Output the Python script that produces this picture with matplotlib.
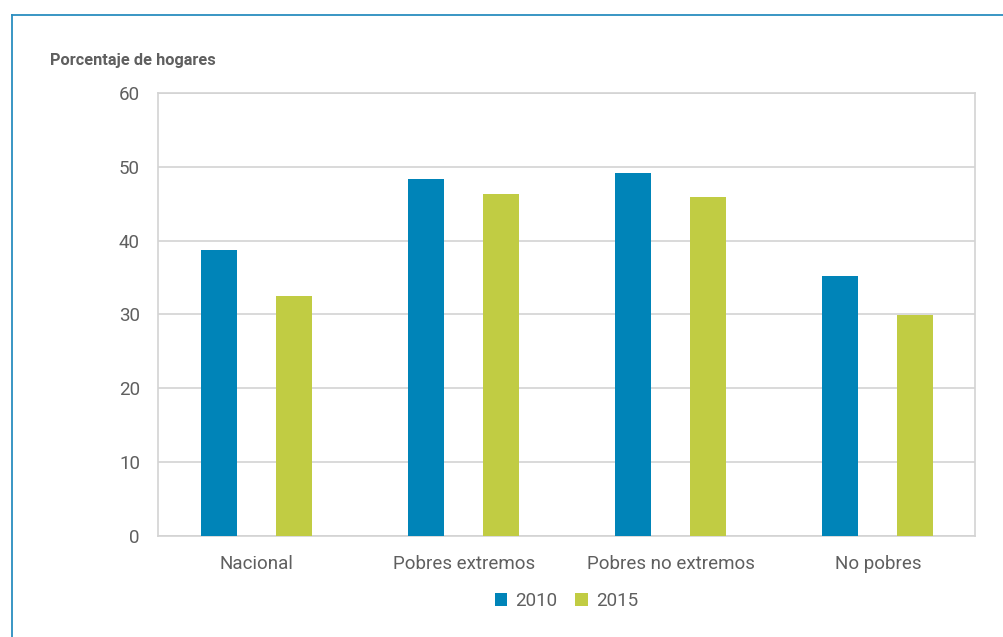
import matplotlib.pyplot as plt
import numpy as np

categories = ["Nacional", "Pobres extremos", "Pobres no extremos", "No pobres"]
years = ["2010", "2015"]
values_2010 = [38.8, 48.4, 49.2, 35.2]
values_2015 = [32.5, 46.3, 45.9, 29.9]
yticks = [0, 10, 20, 30, 40, 50, 60]

blue = "#0084b8"
green = "#c1cc43"
grid = "#d3d3d3"
text = "#5f5f5f"

plt.rcParams['font.family'] = ['Roboto', 'DejaVu Sans']

fig = plt.figure(figsize=(10.04, 6.37), dpi=100)
ax = fig.add_axes([0.1574, 0.1586, 0.8136, 0.6954])

x = np.arange(len(categories))
w = 0.174
ax.bar(x - 0.181, values_2010, w, color=blue, label=years[0], zorder=3)
ax.bar(x + 0.181, values_2015, w, color=green, label=years[1], zorder=3)

ax.set_xlim(-0.476, 3.469)
ax.set_ylim(0, 60)
ax.set_yticks(yticks)
ax.yaxis.grid(True, color=grid, linewidth=1.2, zorder=0)
for s in ax.spines.values():
    s.set_color(grid)
    s.set_linewidth(1.2)
ax.tick_params(length=0, labelsize=13.5, labelcolor=text)
ax.tick_params(axis='y', pad=13)
ax.tick_params(axis='x', pad=14)
ax.set_xticks(x)
ax.set_xticklabels(categories)

fig.text(50 / 1004, 1 - 60 / 637, "Porcentaje de hogares", fontsize=11.8, fontweight='bold',
         color=text, va='center', ha='left')

ax.legend(loc='upper center', bbox_to_anchor=(0.5, -0.088), ncol=2, frameon=False,
          fontsize=13.5, labelcolor=text, handlelength=0.65, handleheight=0.65,
          columnspacing=0.95, handletextpad=0.45)

# outer frame lines (top and left)
fig.add_artist(plt.Line2D([12 / 1004, 1], [1 - 15 / 637, 1 - 15 / 637], color="#2a8dbf", linewidth=1.3))
fig.add_artist(plt.Line2D([12 / 1004, 12 / 1004], [0, 1 - 15 / 637], color="#2a8dbf", linewidth=1.3))

fig.savefig("out.png", dpi=100)
